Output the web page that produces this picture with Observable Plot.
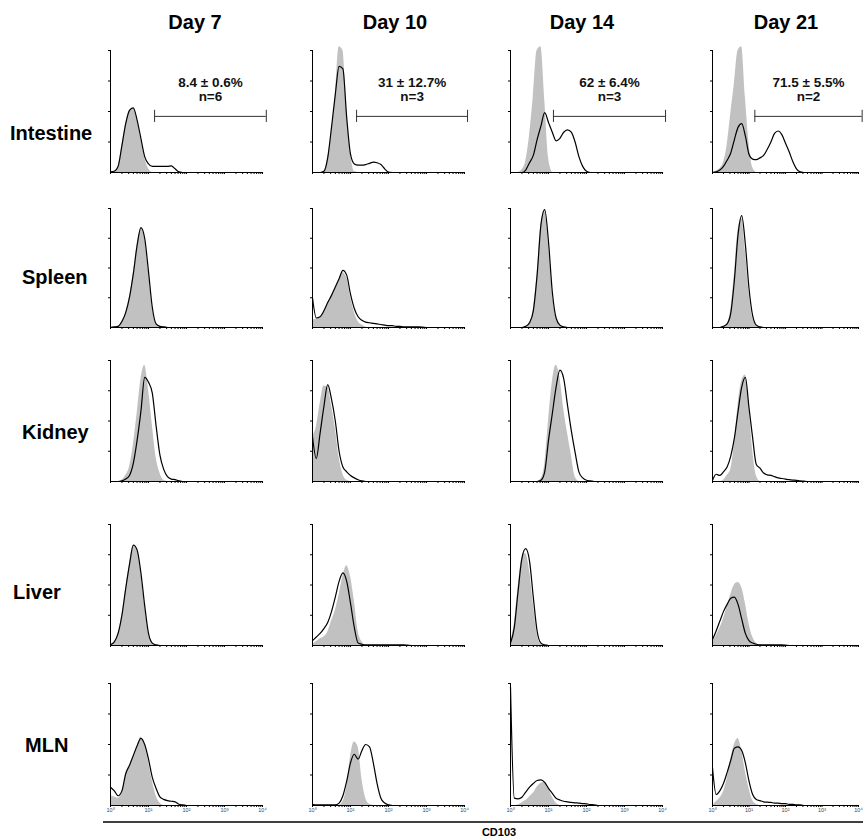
<!DOCTYPE html>
<html>
<head>
<meta charset="utf-8">
<script src="https://cdn.jsdelivr.net/npm/d3@7"></script>
<script src="https://cdn.jsdelivr.net/npm/@observablehq/plot@0.6"></script>
<style>
  html, body { margin: 0; padding: 0; background: #fff; overflow: hidden; }
  #fig { position: relative; width: 863px; height: 838px; overflow: hidden; background: #fff;
         font-family: "Liberation Sans", Arial, sans-serif; }
  #fig svg.panel { position: absolute; }
  #overlay { position: absolute; left: 0; top: 0; }
</style>
</head>
<body>
<div id="fig"></div>
<script>
// ---------------- data ----------------
const days = ["Day 7", "Day 10", "Day 14", "Day 21"];
const tissues = ["Intestine", "Spleen", "Kidney", "Liver", "MLN"];
// histogram bin positions, log10(CD103 fluorescence)
const logBins = [0,0.1,0.2,0.3,0.4,0.5,0.6,0.7,0.8,0.9,1.0,1.1,1.2,1.3,1.4,1.5,1.6,1.7,1.8,1.9,2.0,
                 2.1,2.2,2.3,2.4,2.5,2.6,2.7,2.8,2.9,3.0,3.1,3.2,3.3,3.4,3.5,3.6,3.7,3.8,3.9,4.0];
const decadeTicks = [1, 10, 100, 1000, 10000];
const decadeLabels = ["10\u2070", "10\u00b9", "10\u00b2", "10\u00b3", "10\u2074"];

// gate (CD103+) annotations, Intestine row
const gatePercent = ["8.4 \u00b1 0.6%", "31 \u00b1 12.7%", "62 \u00b1 6.4%", "71.5 \u00b1 5.5%"];
const gateN = ["n=6", "n=3", "n=3", "n=2"];
const gateLow = [1.16, 1.16, 1.13, 1.16];   // log10
const gateHigh = [4.1, 4.08, 4.08, 4.1];    // log10

// Intestine
const intestineD7Iso  = [0.5,1,5,22,40,51,53,43,28,12,3,0];
const intestineD7Cd   = [0.5,1,5,22,40,51,53,43,28,13,7,5,5,5,5,5,5.5,3,0.5,0];
const intestineD10Iso = [0,0,0,0.5,12,32,62,103,100,50,16,1,0];
const intestineD10Cd  = [0,0,0,1,12,37,64,87,85,45,15,7,6,6,6.5,7.5,8.5,8,6.5,3,0.3,0];
const intestineD14Iso = [0,0,0,2,9,30,62,100,103,60,12,0];
const intestineD14Cd  = [0,0,0,0,2,8,14,27,38,49,41,33,26,28,33,35,33,25,13,5,1,0];
const intestineD21Iso = [0,1,3,8,22,48,73,100,103,62,24,4,0];
const intestineD21Cd  = [0,0.5,2,5,10,16,27,37,40,30,15,11,10.5,12,14,19,25,32,34,31,24,17,9,3,0.5,0];
// Spleen
const spleenD7Iso  = [0,0.5,1,5,12.5,25.5,45,69,83,75,47,17,3,1,0.5,0];
const spleenD7Cd   = [0,0.5,1,5,12.5,25.5,45,69,84,75,47,17,3,1,0.5,0];
const spleenD10Iso = [6,7,8,13,20,26,33,40,46,42,26,13,5,2,0.5,0];
const spleenD10Cd  = [25,8,9,14,21,27,34,41,48,44,28,16,9,6,4.5,4,3.5,3,2.5,2,1.5,1.5,1,1,0.5,0.5,0.5,0.5,0.5,0.3,0];
const spleenD14Iso = [0,0,0,0,1,4,15,45,85,98,70,30,8,2,0.5,0];
const spleenD14Cd  = [0,0,0,0,1,4,14,44,86,99,72,30,8,2,0.5,0];
const spleenD21Iso = [0,0,0,1,3,15,45,82,92,65,30,8,2,0.5,0];
const spleenD21Cd  = [0,0,0,1,3,12,40,78,94,70,33,10,2,0.5,0];
// Kidney
const kidneyD7Iso  = [0,0,0,1,5,12,30,56,84,96,76,47,20,7,1,0];
const kidneyD7Cd   = [0,0,0,0.5,2,5,15,34,58,86,82,73,46,22,10,4,2,1.5,0.5,0];
const kidneyD10Iso = [37,45,64,79,78,63,44,20,6,1,0];
const kidneyD10Cd  = [37,19,40,62,80,68,50,25,12,8,5,3,1.5,0.5,0];
const kidneyD14Iso = [0,0,0,0,0,0,0,0,2,14,50,82,96,86,60,40,22,4,0];
const kidneyD14Cd  = [0,0,0,0,0,0,0,0,1,8,34,56,78,92,85,63,42,24,8,3,1,0.5,0];
const kidneyD21Iso = [0,0,0,1,5,10,31,63,83,88,62,26,5,0];
const kidneyD21Cd  = [1,6,5,8,12,21,36,58,78,86,61,36,14,11,7,5.5,5,4,3,2.5,2,1.5,1.2,1,0.5,0.3,0];
// Liver
const liverD7Iso  = [0.5,3,10,25,47,67,82,78,60,33,10,2,0.5,0];
const liverD7Cd   = [0.5,3,10,25,47,67,83,79,60,33,10,2,0.5,0];
const liverD10Iso = [1,3,5.5,7,11,20,29,42,57,66,57,37,12,3,0];
const liverD10Cd  = [4,7,10,14,19,28,40,53,60,53,35,15,2,1,0.5,0.5,0.5,0.5,0.5,0.5,0.5,0.5,0.5,0.5,0.5,0.3,0];
const liverD14Iso = [3,18,48,72,76,62,35,10,1,0];
const liverD14Cd  = [2,15,45,72,80,70,40,12,2,0.5,0];
const liverD21Iso = [3,8,14,22,32,42,50,52,48,35,18,7,2,0];
const liverD21Cd  = [5,12,20,28,34,39,40,34,22,10,4,2,1,0.5,0.5,0.5,0.5,0.5,0.5,0.5,0.3,0];
// MLN
const mlnD7Iso  = [8,7,6,10,24,32,40,48,56,50,36,20,8,2,0];
const mlnD7Cd   = [15,12,8,12,26,33,41,49,55,50,38,23,14,7,5,4,3.5,3,1,0.5,0];
const mlnD10Iso = [0,0,0,0,0,0,0,0,3,15,40,52,48,22,6,1,0];
const mlnD10Cd  = [1,0.5,0.5,0.5,0.5,0.5,0.5,2,8,20,35,42,38,45,50,48,35,18,6,2,0.5,0];
const mlnD14Iso = [0,0,0.5,2,4,7,10,15,18,19,14,7,2,0];
const mlnD14Cd  = [97,6,5.5,6.8,11,15,18,20.5,21,19,14,10,6,4.5,3.5,3,2.5,2.2,2,1.6,1.3,0.8,0.5,0];
const mlnD21Iso = [0,3,6,11,22,38,50,55,45,28,14,4,1,0];
const mlnD21Cd  = [31,9,12,18,27,37,47,48,45,35,20,9,5,4,3,2.7,2.5,2,2,1.5,1.5,1,1,0.5,0.5,0];

const isotype = [
  [intestineD7Iso, intestineD10Iso, intestineD14Iso, intestineD21Iso],
  [spleenD7Iso, spleenD10Iso, spleenD14Iso, spleenD21Iso],
  [kidneyD7Iso, kidneyD10Iso, kidneyD14Iso, kidneyD21Iso],
  [liverD7Iso, liverD10Iso, liverD14Iso, liverD21Iso],
  [mlnD7Iso, mlnD10Iso, mlnD14Iso, mlnD21Iso]
];
const stained = [
  [intestineD7Cd, intestineD10Cd, intestineD14Cd, intestineD21Cd],
  [spleenD7Cd, spleenD10Cd, spleenD14Cd, spleenD21Cd],
  [kidneyD7Cd, kidneyD10Cd, kidneyD14Cd, kidneyD21Cd],
  [liverD7Cd, liverD10Cd, liverD14Cd, liverD21Cd],
  [mlnD7Cd, mlnD10Cd, mlnD14Cd, mlnD21Cd]
];

// ---------------- layout ----------------
const colLeft = [110, 312, 510, 712];
const colWidth = [152, 152, 152, 146];
const rowTop = [50, 208, 360, 524, 683];
const rowBase = [172, 327, 481, 645, 805];
const mL = 8, mR = 8, mT = 8;
const fontFam = "'Liberation Sans', Arial, Helvetica, sans-serif";
const isoFill = "#c1c1c1";

const fig = document.getElementById("fig");

const toRows = arr => arr.map((v, i) => ({cd103: Math.pow(10, logBins[i]), count: v}));

tissues.forEach((tissue, r) => {
  days.forEach((day, c) => {
    const last = r === tissues.length - 1;
    const mB = last ? 14 : 4;
    const h = rowBase[r] - rowTop[r];
    const marks = [
      Plot.areaY(toRows(isotype[r][c]), {x: "cd103", y: "count", fill: isoFill, curve: "monotone-x"}),
      Plot.lineY(toRows(stained[r][c]), {x: "cd103", y: "count", stroke: "#000", strokeWidth: 1.2, curve: "monotone-x"}),
      Plot.ruleY([0], {stroke: "#000", strokeWidth: 1}),
      Plot.ruleX([1], {stroke: "#000", strokeWidth: 1}),
      Plot.axisY({ticks: [25, 50, 75, 100], tickSize: 2, tickFormat: () => "", label: null, stroke: "#000"}),
      Plot.axisX({ticks: 10, tickSize: 2, tickFormat: () => "", label: null, stroke: "#000"})
    ];
    if (last) {
      marks.push(Plot.axisX({
        ticks: decadeTicks, tickSize: 0, tickPadding: 3, label: null,
        tickFormat: d => decadeLabels[decadeTicks.indexOf(d)],
        fontSize: 5.5, fill: "#444", stroke: "none"
      }));
    }
    if (r === 0) {
      const lo = Math.pow(10, gateLow[c]), hi = Math.pow(10, gateHigh[c]);
      marks.push(
        Plot.ruleY([{y: 46, x1: lo, x2: hi}], {y: "y", x1: "x1", x2: "x2", stroke: "#333", strokeWidth: 1}),
        Plot.ruleX([{x: lo}, {x: hi}], {x: "x", y1: () => 41, y2: () => 51, stroke: "#333", strokeWidth: 1}),
        Plot.text([{x: Math.pow(10, (gateLow[c] + gateHigh[c]) / 2), y: 67.7, t: gatePercent[c] + "\n" + gateN[c]}],
          {x: "x", y: "y", text: "t", fontSize: 13.5, fontWeight: "bold", lineHeight: 1, fill: "#111", fontFamily: fontFam})
      );
    }
    const svg = Plot.plot({
      width: colWidth[c] + mL + mR,
      height: h + mT + mB,
      marginLeft: mL, marginRight: mR, marginTop: mT, marginBottom: mB,
      x: {type: "log", domain: [1, 10000]},
      y: {domain: [0, 100]},
      style: {fontFamily: fontFam, background: "transparent", overflow: "visible"},
      marks
    });
    svg.classList.add("panel");
    svg.style.left = (colLeft[c] - mL) + "px";
    svg.style.top = (rowTop[r] - mT) + "px";
    svg.style.maxWidth = "none";
    fig.appendChild(svg);
  });
});

// ---------------- labels overlay ----------------
const titleX = [195, 395, 582, 786];
const titleY = 29;
const rowLabelX = [10, 22, 22, 13, 25];
const rowLabelY = [140, 284, 439, 599, 752];
const xAxisTitle = "CD103";

const overlay = d3.select(fig).append("svg")
  .attr("id", "overlay").attr("width", 863).attr("height", 838)
  .style("font-family", fontFam);

overlay.selectAll("text.title").data(days).join("text")
  .attr("class", "title")
  .attr("x", (d, i) => titleX[i]).attr("y", titleY)
  .attr("text-anchor", "middle").attr("font-size", 20).attr("font-weight", "bold")
  .text(d => d);

overlay.selectAll("text.row").data(tissues).join("text")
  .attr("class", "row")
  .attr("x", (d, i) => rowLabelX[i]).attr("y", (d, i) => rowLabelY[i])
  .attr("font-size", 20).attr("font-weight", "bold")
  .text(d => d);

overlay.append("line")
  .attr("x1", 103).attr("x2", 863).attr("y1", 822).attr("y2", 822)
  .attr("stroke", "#000").attr("stroke-width", 1.5);

overlay.append("text")
  .attr("x", 499).attr("y", 836).attr("text-anchor", "middle")
  .attr("font-size", 11).attr("font-weight", "bold")
  .text(xAxisTitle);
</script>
</body>
</html>
